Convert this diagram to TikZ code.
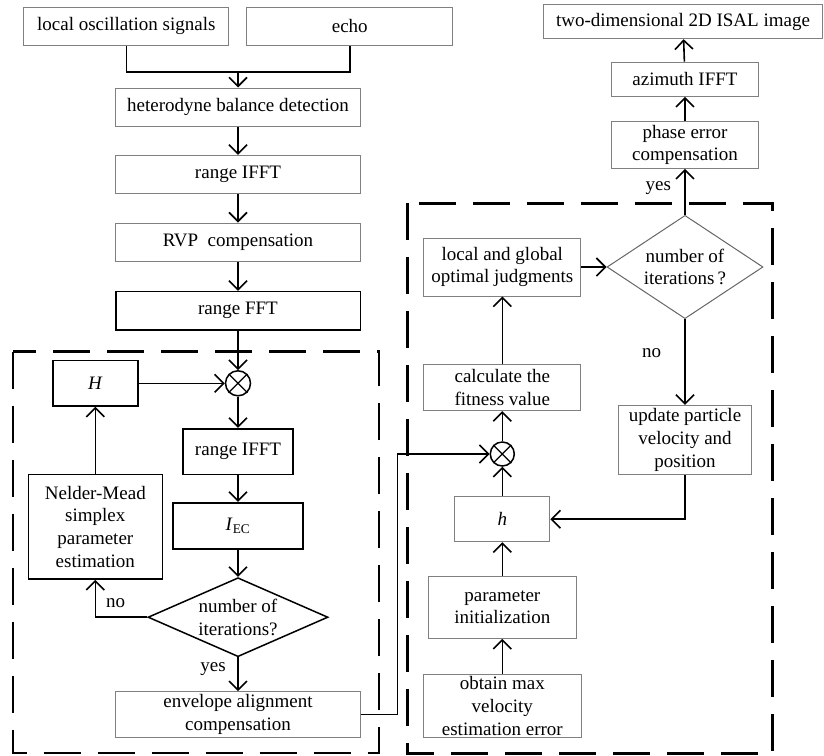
\documentclass[tikz,border=0pt]{standalone}
\usepackage{fontspec}
\setmainfont{Liberation Serif}
\usetikzlibrary{arrows.meta,shapes.geometric}
\begin{document}
\begin{tikzpicture}[x=1pt,y=-1pt, font=\fontsize{19}{22.7}\selectfont,
 gbox/.style={draw=black!50, line width=1pt, align=center, inner sep=0pt},
 bbox/.style={draw=black, line width=1.6pt, align=center, inner sep=0pt},
 arr/.style={line width=1.6pt, -{Straight Barb[length=9pt,width=18pt,line width=1.6pt]}},
 ln/.style={line width=1.6pt},
 frame/.style={line width=2.6pt, dash pattern=on 37pt off 17pt},
 mult/.style={circle, draw, line width=1.5pt, minimum size=25pt, inner sep=0pt},
 dia/.style={diamond, inner sep=0pt}]
\useasboundingbox (0,0) rectangle (824,755);
% dashed frames
\draw[frame] (13,351.7) rectangle (379,753);
\draw[frame] (407.3,203.3) rectangle (772.7,753.3);
% left column
\node[gbox, minimum width=205.3pt, minimum height=38pt] (los) at (126.3,26.3) {local oscillation signals};
\node[gbox, minimum width=205.7pt, minimum height=38pt] (echo) at (349.8,26.3) {echo};
\node[gbox, minimum width=244.6pt, minimum height=38pt] (het) at (238,107) {heterodyne balance detection};
\node[gbox, minimum width=244.6pt, minimum height=38pt] (rifft) at (238,174.3) {range IFFT};
\node[gbox, minimum width=244.6pt, minimum height=38pt] (rvp) at (238,242) {RVP~ compensation};
\node[bbox, minimum width=244.6pt, minimum height=38.3pt] (rfft) at (238,310.8) {range FFT};
\node[bbox, minimum width=85pt, minimum height=45.3pt] (H) at (95.3,383.3) {\textit{H}};
\node[mult] (x1) at (238,383.3) {};
\draw[line width=1.2pt] (x1.north west) -- (x1.south east) (x1.north east) -- (x1.south west);
\node[bbox, minimum width=110.3pt, minimum height=45.6pt] (rifft2) at (238,451.5) {range IFFT};
\node[bbox, minimum width=129.7pt, minimum height=46pt] (iec) at (238,525.7) {\textit{I}\textsubscript{EC}};
\node[bbox, minimum width=134pt, minimum height=104.7pt] (nm) at (95.3,526.7) {Nelder-Mead\\simplex\\parameter\\estimation};
\node[dia, draw=black, line width=1.5pt, minimum width=180pt, minimum height=79pt] (d1) at (238,617.2) {};
\node[align=center] (d1t) at (d1.center) {number of\\iterations?};
\node[gbox, minimum width=244.6pt, minimum height=45.6pt] (env) at (238,714.5) {envelope alignment\\compensation};
\node (no1) at (115.7,603) {no};
\node (yes1) at (213,669) {yes};
% right side
\node[gbox, minimum width=279pt, minimum height=34pt] (twoD) at (683,21.7) {two-dimensional 2D ISAL image};
\node[gbox, minimum width=146.6pt, minimum height=34.3pt] (az) at (685,79.2) {azimuth IFFT};
\node[gbox, minimum width=146.6pt, minimum height=46.6pt] (phase) at (685,145) {phase error\\compensation};
\node[dia, draw=black!60, line width=1pt, minimum width=156pt, minimum height=103.3pt] (d2) at (685,267) {};
\node[align=center] (d2t) at (d2.center) {number of\\iterations\,?};
\node[gbox, minimum width=157pt, minimum height=58pt] (lg) at (502.3,267) {local and global\\optimal judgments};
\node[gbox, minimum width=157pt, minimum height=45.7pt] (calc) at (502.3,387.8) {calculate the\\fitness value};
\node[mult, minimum size=24pt] (x2) at (502.3,454) {};
\draw[line width=1.2pt] (x2.north west) -- (x2.south east) (x2.north east) -- (x2.south west);
\node[gbox, minimum width=132.7pt, minimum height=69pt] (upd) at (685,439.8) {update particle\\velocity and\\position};
\node[gbox, minimum width=95pt, minimum height=45pt] (h) at (502.3,519.2) {\textit{h}};
\node[gbox, minimum width=147.4pt, minimum height=62.3pt] (param) at (502.3,607.2) {parameter\\initialization};
\node[gbox, minimum width=157.7pt, minimum height=62.6pt] (obtain) at (502.3,706) {obtain max\\velocity\\estimation error};
\node (yes2) at (658.3,187.7) {yes};
\node (no2) at (651.7,353.3) {no};
% connectors left
\coordinate (j1) at (238,72);
\draw[ln] (los.south) |- (j1) -| (echo.south);
\draw[arr] (j1) -- (het.north);
\draw[arr] (het) -- (rifft);
\draw[arr] (rifft) -- (rvp);
\draw[arr] (rvp) -- (rfft);
\draw[arr] (rfft) -- (x1);
\draw[arr] (H) -- (x1);
\draw[arr] (x1) -- (rifft2);
\draw[arr] (rifft2) -- (iec);
\draw[arr] (iec) -- (d1.north);
\draw[arr] (d1.west) -| (nm.south);
\draw[arr] (nm.north) -- (H.south);
\draw[arr] (d1.south) -- (env.north);
\coordinate (c1) at (397.3,454);
\draw[arr] (env.east) -| (c1) -- (x2.west);
% connectors right
\draw[arr] (obtain) -- (param);
\draw[arr] (param) -- (h);
\draw[arr] (h) -- (x2);
\draw[arr] (x2) -- (calc);
\draw[arr] (calc) -- (lg);
\draw[arr] (lg.east) -- (d2.west);
\draw[arr] (d2.north) -- (phase.south);
\draw[arr] (phase) -- (az);
\draw[arr] (az) -- (twoD);
\draw[arr] (d2.south) -- (upd.north);
\draw[arr] (upd.south) |- (h.east);
\end{tikzpicture}
\end{document}
